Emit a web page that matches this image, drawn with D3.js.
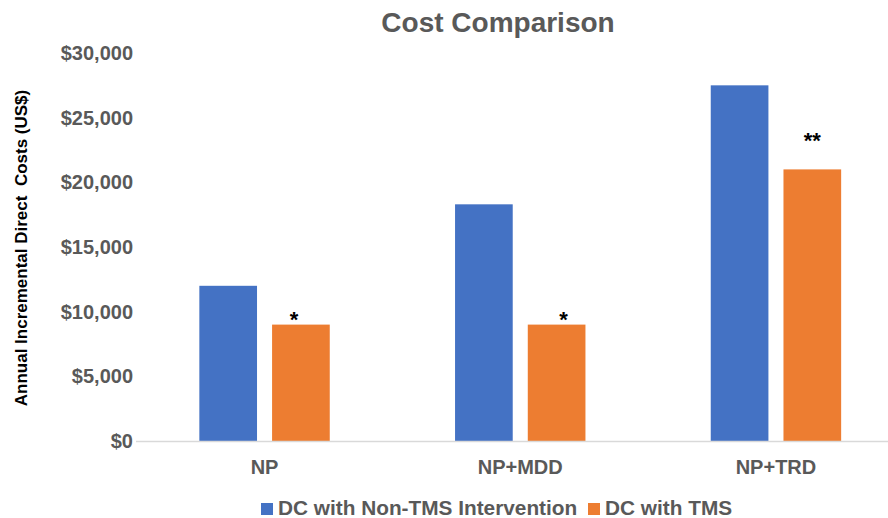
<!DOCTYPE html>
<html>
<head>
<meta charset="utf-8">
<script src="https://cdn.jsdelivr.net/npm/d3@7"></script>
<style>
  html, body { margin: 0; padding: 0; background: #fff; }
  svg { display: block; font-family: "Liberation Sans", Arial, Helvetica, sans-serif; }
</style>
</head>
<body>
<div id="chart"></div>
<script>
// data
const categories = ["NP", "NP+MDD", "NP+TRD"];
const seriesNames = ["DC with Non-TMS Intervention", "DC with TMS"];
const nonTmsCosts = [12000, 18300, 27500];
const tmsCosts = [9000, 9000, 21000];
const yTicks = [0, 5000, 10000, 15000, 20000, 25000, 30000];
// significance marks above the TMS bars (value = level of the mark)
const marks = ["*", "*", "**"];
const markLevels = [9900, 9900, 23700];

const width = 888, height = 518;
const colors = ["#4472c4", "#ed7d31"];
const textGray = "#595959";
// marks were nudged by hand in the original
const markNudge = [-7, 7, 0];

const svg = d3.select("#chart").append("svg")
    .attr("width", width)
    .attr("height", height);

const y = d3.scaleLinear().domain([0, 30000]).range([441, 53]);

const x0 = d3.scaleBand()
    .domain(categories)
    .range([136.7, 903.8])
    .paddingInner(0.49)
    .paddingOuter(0.245);

const x1 = d3.scaleBand()
    .domain(seriesNames)
    .range([0, x0.bandwidth()])
    .paddingInner(0.207);

const color = d3.scaleOrdinal().domain(seriesNames).range(colors);

const rows = categories.map((c, i) => ({
    category: c,
    values: [
        {series: seriesNames[0], value: nonTmsCosts[i]},
        {series: seriesNames[1], value: tmsCosts[i]}
    ]
}));

// title
svg.append("text")
    .attr("x", 498)
    .attr("y", 32)
    .attr("text-anchor", "middle")
    .attr("fill", textGray)
    .style("font-size", "28px")
    .style("font-weight", "bold")
    .text("Cost Comparison");

// y axis labels
const yAxis = d3.axisLeft(y)
    .tickValues(yTicks)
    .tickSize(0)
    .tickPadding(0)
    .tickFormat(d => "$" + d3.format(",")(d));

const yG = svg.append("g")
    .attr("transform", "translate(133,0)")
    .call(yAxis);
yG.select(".domain").remove();
yG.selectAll("text")
    .attr("fill", textGray)
    .style("font-size", "20px")
    .style("font-weight", "bold")
    .style("font-family", "'Liberation Sans', Arial, sans-serif");

// y axis title
svg.append("text")
    .attr("transform", "translate(27,248) rotate(-90)")
    .attr("text-anchor", "middle")
    .attr("fill", "#000")
    .style("font-size", "17px")
    .style("font-weight", "bold")
    .style("white-space", "pre")
    .text("Annual Incremental Direct  Costs (US$)");

// bars
const groups = svg.append("g").selectAll("g")
    .data(rows)
    .join("g")
    .attr("transform", d => "translate(" + x0(d.category) + ",0)");

groups.selectAll("rect")
    .data(d => d.values)
    .join("rect")
    .attr("x", d => x1(d.series))
    .attr("y", d => y(d.value))
    .attr("width", x1.bandwidth())
    .attr("height", d => y(0) - y(d.value))
    .attr("fill", d => color(d.series));

// significance marks
svg.append("g").selectAll("text")
    .data(categories)
    .join("text")
    .attr("x", (c, i) => x0(c) + x1(seriesNames[1]) + x1.bandwidth() / 2 + markNudge[i])
    .attr("y", (c, i) => y(markLevels[i]))
    .attr("dy", "0.62em")
    .attr("text-anchor", "middle")
    .attr("fill", "#000")
    .style("font-size", "22px")
    .style("font-weight", "bold")
    .text((c, i) => marks[i]);

// x axis
const xAxis = d3.axisBottom(x0).tickSize(0).tickPadding(0);
const xG = svg.append("g")
    .attr("transform", "translate(0," + y(0) + ")")
    .call(xAxis);
xG.select(".domain").remove();
xG.selectAll("text")
    .attr("y", 33)
    .attr("dy", 0)
    .attr("fill", textGray)
    .style("font-size", "20px")
    .style("font-weight", "bold")
    .style("font-family", "'Liberation Sans', Arial, sans-serif");

svg.append("line")
    .attr("x1", 136)
    .attr("x2", width)
    .attr("y1", y(0) + 0.5)
    .attr("y2", y(0) + 0.5)
    .attr("stroke", "#d9d9d9")
    .attr("stroke-width", 1.5);

// legend
const legendX = [261, 588];
const legend = svg.append("g").selectAll("g")
    .data(seriesNames)
    .join("g")
    .attr("transform", (d, i) => "translate(" + legendX[i] + ",503)");

legend.append("rect")
    .attr("width", 12)
    .attr("height", 12)
    .attr("fill", d => color(d));

legend.append("text")
    .attr("x", 17)
    .attr("y", 12)
    .attr("fill", textGray)
    .style("font-size", "20.8px")
    .style("font-weight", "bold")
    .text(d => d);
</script>
</body>
</html>
